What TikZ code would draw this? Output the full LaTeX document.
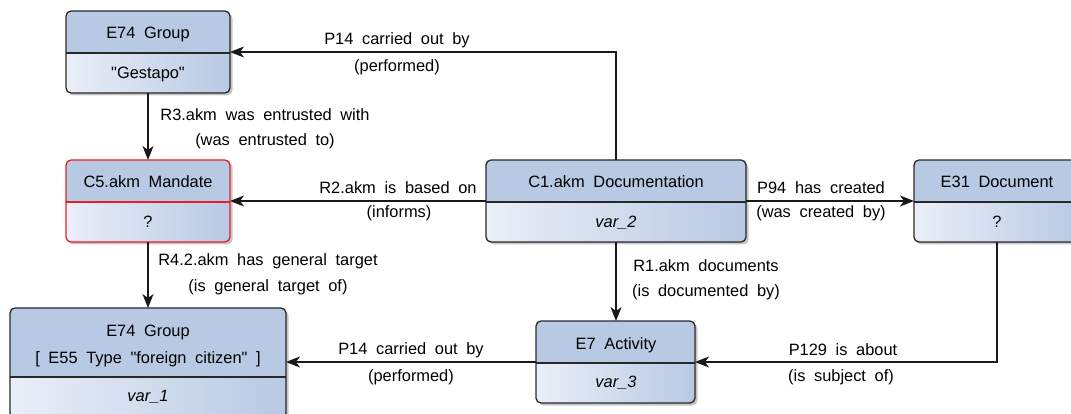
\documentclass[tikz,border=0pt]{standalone}
\usepackage{fontspec}
\setmainfont{Liberation Sans}[WordSpace=1.9, Ligatures=TeXOff]
\usetikzlibrary{arrows.meta}
\definecolor{hdr}{RGB}{184,201,227}
\definecolor{lite}{RGB}{234,239,248}
\definecolor{bord}{RGB}{40,40,40}
\definecolor{mred}{RGB}{232,30,38}
\tikzset{
  frame/.style={draw=bord, line width=1.3pt, rounded corners=5pt, inner sep=0pt, outer sep=0pt},
  txt/.style={font=\fontsize{16.4}{19}\selectfont, inner sep=0pt, anchor=center},
  btxt/.style={txt, text height=11.7pt, text depth=0pt},
  arr/.style={line width=1.4pt, draw=black!90, -{Stealth[length=14pt, width=11pt, inset=4pt]}},
}
% #1 name, #2 x1, #3 y1, #4 x2, #5 y2, #6 divider y, #7 border colour
\newcommand\umlbox[7]{%
  \begin{scope}
    \fill[black, opacity=.22, rounded corners=5pt] (#2+2.5,#3+2.5) rectangle (#4+2.5,#5+2.5);
    \clip[rounded corners=5pt] (#2,#3) rectangle (#4,#5);
    \shade[left color=lite, right color=hdr] (#2,#6) rectangle (#4,#5);
    \fill[hdr] (#2,#3) rectangle (#4,#6);
  \end{scope}
  \draw[line width=1.3pt, draw=#7] (#2,#6) -- (#4,#6);
  \node[frame, draw=#7, minimum width={#4-#2}, minimum height={#5-#3}]
    (#1) at ({(#2+#4)/2},{(#3+#5)/2}) {};
}
\begin{document}
\begin{tikzpicture}[x=1pt, y=-1pt]
\useasboundingbox (0,0) rectangle (1071,414);
\clip (0,0) rectangle (1071,414);
\fill[white] (0,0) rectangle (1071,414);

\umlbox{g1}{66}{11}{230}{93}{53}{bord}
\umlbox{md}{66}{160}{230}{242}{202}{mred}
\umlbox{c1}{486}{160}{746}{242}{202}{bord}
\umlbox{e31}{914}{160}{1080}{242}{202}{bord}
\umlbox{e74}{10}{308}{286}{418}{377}{bord}
\umlbox{e7}{536}{321}{695}{403}{363}{bord}

% box texts
\node[btxt] (g1t) at (148,33) {E74 Group};
\node[btxt] (g1b) at (148,72.5) {"Gestapo"};
\node[btxt] (mdt) at (148,182) {C5.akm Mandate};
\node[btxt] (mdb) at (148,221.5) {?};
\node[btxt] (c1t) at (616,182) {C1.akm Documentation};
\node[btxt] (c1b) at (616,221.5) {\itshape var\_2};
\node[btxt] (e31t) at (997,182) {E31 Document};
\node[btxt] (e31b) at (997,221.5) {?};
\node[btxt] (e74t) at (148,331) {E74 Group};
\node[btxt] (e74s) at (148,357.5) {[ E55 Type "foreign citizen" ]};
\node[btxt] (e74b) at (148,396) {\itshape var\_1};
\node[btxt] (e7t) at (616,343.5) {E7 Activity};
\node[btxt] (e7b) at (616,381.5) {\itshape var\_3};

% connectors
\draw[arr] (c1.north) |- (g1.east);
\draw[arr] (g1.south) -- (md.north);
\draw[arr] (c1.west) -- (md.east);
\draw[arr] (c1.east) -- (e31.west);
\draw[arr] (md.south) -- (e74.north);
\draw[arr] (c1.south) -- (c1.south |- e7.north);
\draw[arr] (e7.west) -- (e7.west -| e74.east);
\draw[arr] (e31.south) |- (e7.east);

% connector labels
\node[txt] (l1a) at (397,40) {P14 carried out by};
\node[txt] (l1b) at (397,67) {(performed)};
\node[txt] (l2a) at (265,115) {R3.akm was entrusted with};
\node[txt] (l2b) at (265,141) {(was entrusted to)};
\node[txt] (l3a) at (398,188) {R2.akm is based on};
\node[txt] (l3b) at (399,213) {(informs)};
\node[txt] (l4a) at (821,188) {P94 has created};
\node[txt] (l4b) at (821,213) {(was created by)};
\node[txt] (l5a) at (268,261) {R4.2.akm has general target};
\node[txt] (l5b) at (268,287) {(is general target of)};
\node[txt] (l6a) at (706,266) {R1.akm documents};
\node[txt] (l6b) at (706,292) {(is documented by)};
\node[txt] (l7a) at (411,350) {P14 carried out by};
\node[txt] (l7b) at (411,377) {(performed)};
\node[txt] (l8a) at (843,350) {P129 is about};
\node[txt] (l8b) at (841,377) {(is subject of)};
\end{tikzpicture}
\end{document}
